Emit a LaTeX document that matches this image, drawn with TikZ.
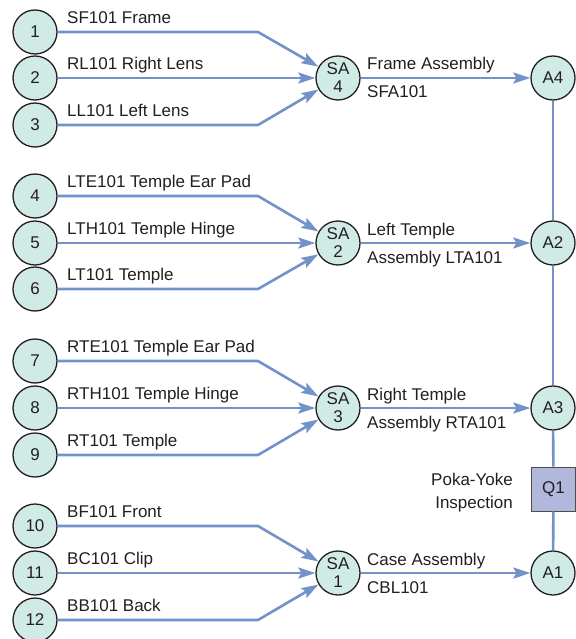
\documentclass[tikz,border=0pt]{standalone}
\usepackage{fontspec}
\setmainfont{Liberation Sans}
\usetikzlibrary{arrows.meta}
\definecolor{cfill}{HTML}{D0EAE6}
\definecolor{lblue}{HTML}{7292C9}
\definecolor{bfill}{HTML}{B2B8DC}
\definecolor{txt}{HTML}{231F20}
\begin{document}
\begin{tikzpicture}[x=1pt,y=-1pt,
  every node/.style={text=txt, font=\fontsize{17}{18}\selectfont},
  part/.style={circle, draw=txt, line width=1.3pt, fill=cfill, minimum size=44pt, inner sep=0pt},
  sub/.style={part, align=center},
  qbox/.style={draw=txt!80, line width=1pt, fill=bfill, minimum size=44pt, inner sep=0pt},
  flow/.style={draw=lblue, line width=2.6pt, line join=round},
  arr/.style={flow, -{Stealth[length=17pt,width=11pt,inset=3pt]}},
  lab/.style={anchor=base west, inner sep=0pt},
  rlab/.style={anchor=base east, inner sep=0pt},
]
\useasboundingbox (0,0) rectangle (575,639);
\coordinate (bx) at (258,0);

% ---- group SA4 ----
\node[part] (p1) at (35,32) {1};
\node[part] (p2) at (35,78) {2};
\node[part] (p3) at (35,125) {3};
\node[sub] (sa4) at (338,78) {SA\\4};
\node[part] (a4) at (553,78) {A4};
\node[lab] at (67,23.5) {SF101 Frame};
\node[lab] at (67,69.5) {RL101 Right Lens};
\node[lab] at (67,116.5) {LL101 Left Lens};
\node[lab] at (367,70) {Frame Assembly};
\node[lab] at (367,98) {SFA101};

% ---- group SA2 ----
\node[part] (p4) at (35,196) {4};
\node[part] (p5) at (35,243) {5};
\node[part] (p6) at (35,289) {6};
\node[sub] (sa2) at (338,243) {SA\\2};
\node[part] (a2) at (553,243) {A2};
\node[lab] at (67,187.5) {LTE101 Temple Ear Pad};
\node[lab] at (67,234.5) {LTH101 Temple Hinge};
\node[lab] at (67,280.5) {LT101 Temple};
\node[lab] at (367,235) {Left Temple};
\node[lab] at (367,263) {Assembly LTA101};

% ---- group SA3 ----
\node[part] (p7) at (35,361) {7};
\node[part] (p8) at (35,408) {8};
\node[part] (p9) at (35,455) {9};
\node[sub] (sa3) at (338,408) {SA\\3};
\node[part] (a3) at (553,408) {A3};
\node[lab] at (67,352.5) {RTE101 Temple Ear Pad};
\node[lab] at (67,399.5) {RTH101 Temple Hinge};
\node[lab] at (67,446.5) {RT101 Temple};
\node[lab] at (367,400) {Right Temple};
\node[lab] at (367,428) {Assembly RTA101};

% ---- group SA1 ----
\node[part] (p10) at (35,526) {10};
\node[part] (p11) at (35,573) {11};
\node[part] (p12) at (35,620) {12};
\node[sub] (sa1) at (338,573) {SA\\1};
\node[part] (a1) at (553,573) {A1};
\node[lab] at (67,517.5) {BF101 Front};
\node[lab] at (67,564.5) {BC101 Clip};
\node[lab] at (67,611.5) {BB101 Back};
\node[lab] at (367,565) {Case Assembly};
\node[lab] at (367,593) {CBL101};

% ---- inspection ----
\node[qbox] (q1) at (553.5,489) {Q1};
\node[rlab] at (513,485) {Poka-Yoke};
\node[rlab] at (513,508) {Inspection};

% ---- connectors ----
\draw[arr] (p1.east) -- (p1.east -| bx) -- (sa4);
\draw[arr] (p2) -- (sa4);
\draw[arr] (p3.east) -- (p3.east -| bx) -- (sa4);
\draw[arr] (sa4) -- (a4);

\draw[arr] (p4.east) -- (p4.east -| bx) -- (sa2);
\draw[arr] (p5) -- (sa2);
\draw[arr] (p6.east) -- (p6.east -| bx) -- (sa2);
\draw[arr] (sa2) -- (a2);

\draw[arr] (p7.east) -- (p7.east -| bx) -- (sa3);
\draw[arr] (p8) -- (sa3);
\draw[arr] (p9.east) -- (p9.east -| bx) -- (sa3);
\draw[arr] (sa3) -- (a3);

\draw[arr] (p10.east) -- (p10.east -| bx) -- (sa1);
\draw[arr] (p11) -- (sa1);
\draw[arr] (p12.east) -- (p12.east -| bx) -- (sa1);
\draw[arr] (sa1) -- (a1);

\draw[flow] (a4) -- (a2);
\draw[flow] (a2) -- (a3);
\draw[flow] (a3) -- (q1);
\draw[flow] (q1) -- (a1);
\end{tikzpicture}
\end{document}
